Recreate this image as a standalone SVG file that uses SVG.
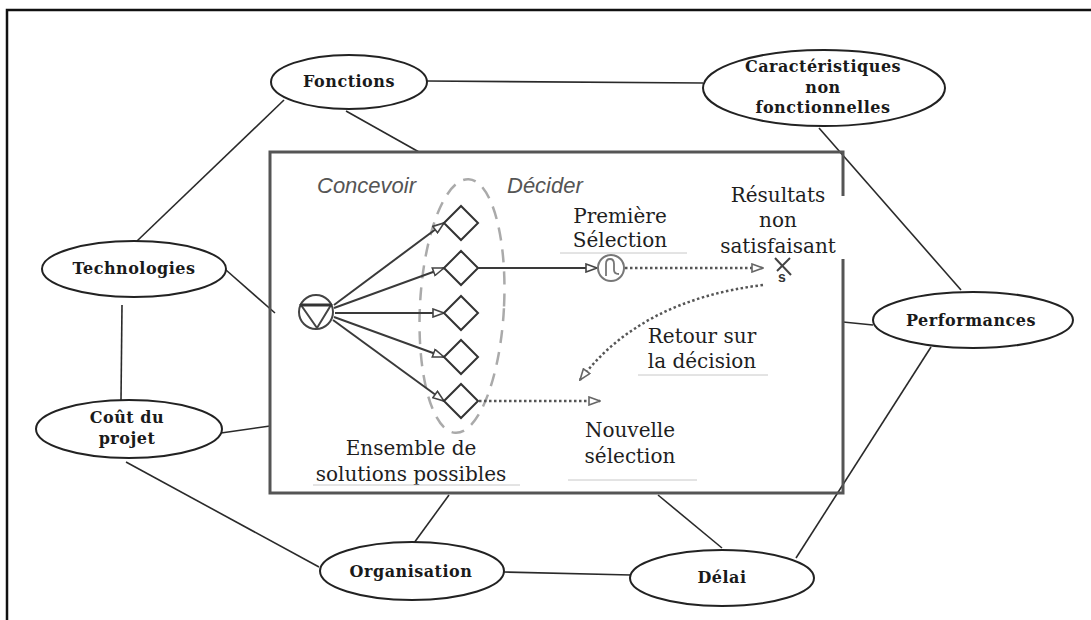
<svg xmlns="http://www.w3.org/2000/svg" width="1091" height="620" viewBox="0 0 1091 620">
  <style>
    .node ellipse { fill: #ffffff; stroke: #222; stroke-width: 2; }
    .nlabel { font-family: "DejaVu Serif", "Liberation Serif", serif; font-weight: bold; font-size: 16px; letter-spacing: 0.5px; fill: #1a1a1a; text-anchor: middle; }
    .link { stroke: #2a2a2a; stroke-width: 1.6; fill: none; }
    .phase { font-family: "Liberation Sans", Arial, sans-serif; font-style: italic; font-size: 22px; fill: #555; }
    .lbl { font-family: "DejaVu Serif", "Liberation Serif", serif; font-size: 20px; fill: #1e1e1e; text-anchor: middle; }
    .uline { stroke: #c8c8c8; stroke-width: 1; }
    .flow { stroke: #3a3a3a; stroke-width: 2; fill: none; }
    .dots { stroke: #555; stroke-width: 2.5; fill: none; stroke-dasharray: 2.5 2.5; }
    .diamond { fill: #fff; stroke: #333; stroke-width: 2; }
  </style>
  <defs>
    <marker id="open" viewBox="-1 -1 13 10" refX="11" refY="4" markerWidth="13" markerHeight="10" markerUnits="userSpaceOnUse" orient="auto">
      <path d="M0,0 L11,4 L0,8 Z" fill="#fff" stroke="#444" stroke-width="1.6"/>
    </marker>
    <marker id="openGray" viewBox="-1 -1 13 10" refX="11" refY="4" markerWidth="13" markerHeight="10" markerUnits="userSpaceOnUse" orient="auto">
      <path d="M0,0 L11,4 L0,8 Z" fill="#fff" stroke="#666" stroke-width="1.6"/>
    </marker>
  </defs>

  <rect width="1091" height="620" fill="#ffffff"/>

  <!-- page frame (top and left edges) -->
  <path d="M7,620 L7,10 L1091,10" fill="none" stroke="#111" stroke-width="2.5"/>

  <!-- links between the outer topics and the central process -->
  <g id="connectors">
    <line class="link" x1="427" y1="81" x2="703" y2="83"/>
    <line class="link" x1="284" y1="100" x2="137" y2="241"/>
    <line class="link" x1="346" y1="111" x2="419" y2="152"/>
    <line class="link" x1="226" y1="270" x2="275" y2="313"/>
    <line class="link" x1="122" y1="305" x2="121" y2="400"/>
    <line class="link" x1="221" y1="433" x2="270" y2="426"/>
    <line class="link" x1="126" y1="462" x2="319" y2="567"/>
    <line class="link" x1="414" y1="543" x2="449" y2="495"/>
    <line class="link" x1="504" y1="572" x2="631" y2="575"/>
    <line class="link" x1="722" y1="548" x2="658" y2="495"/>
    <line class="link" x1="796" y1="558" x2="931" y2="347"/>
    <line class="link" x1="843" y1="322" x2="873" y2="325"/>
    <line class="link" x1="819" y1="128" x2="961" y2="290"/>
  </g>

  <!-- central design / decision process -->
  <g id="process">
    <rect x="270" y="152" width="573" height="341" fill="none" stroke="#555" stroke-width="3"/>

    <text class="phase" x="317" y="193">Concevoir</text>
    <text class="phase" x="507" y="193">Décider</text>

    <!-- set of candidate solutions -->
    <ellipse cx="462" cy="306" rx="42" ry="127" transform="rotate(3 462 306)" fill="none" stroke="#aaa" stroke-width="2.5" stroke-dasharray="13 9"/>

    <!-- source: circle with triangle -->
    <circle cx="316" cy="312" r="17" fill="#fff" stroke="#444" stroke-width="2"/>
    <path d="M301,305 L331,305 L317,328 Z" fill="none" stroke="#444" stroke-width="2"/>
    <line x1="300" y1="305" x2="332" y2="305" stroke="#333" stroke-width="3"/>

    <!-- fan-out to each solution -->
    <line class="flow" x1="334" y1="305" x2="444" y2="223" marker-end="url(#open)"/>
    <line class="flow" x1="334" y1="308" x2="444" y2="268" marker-end="url(#open)"/>
    <line class="flow" x1="335" y1="313" x2="444" y2="313" marker-end="url(#open)"/>
    <line class="flow" x1="334" y1="317" x2="444" y2="357" marker-end="url(#open)"/>
    <line class="flow" x1="333" y1="320" x2="444" y2="401" marker-end="url(#open)"/>

    <path class="diamond" d="M444,223 L461,206 L478,223 L461,240 Z"/>
    <path class="diamond" d="M444,268 L461,251 L478,268 L461,285 Z"/>
    <path class="diamond" d="M444,313 L461,296 L478,313 L461,330 Z"/>
    <path class="diamond" d="M444,357 L461,340 L478,357 L461,374 Z"/>
    <path class="diamond" d="M444,401 L461,384 L478,401 L461,418 Z"/>

    <!-- first selection -->
    <line class="flow" x1="478" y1="268" x2="597" y2="268" marker-end="url(#open)"/>
    <circle cx="611" cy="268" r="13" fill="#fff" stroke="#777" stroke-width="2"/>
    <path d="M606,276 L606,264 Q606,259 610,259 Q614,259 614,264 L614,270 Q614,274 619,274" fill="none" stroke="#777" stroke-width="1.8"/>
    <line class="dots" x1="625" y1="268" x2="763" y2="268" marker-end="url(#openGray)"/>

    <!-- unsatisfactory result -->
    <rect x="712" y="196" width="134" height="63" fill="#fff"/>
    <line x1="775" y1="258" x2="791" y2="275" stroke="#444" stroke-width="2"/>
    <line x1="790" y1="258" x2="777" y2="271" stroke="#444" stroke-width="2"/>
    <text x="778" y="282" font-family="Liberation Sans, Arial, sans-serif" font-weight="bold" font-size="14" fill="#333">s</text>

    <!-- back to the decision -->
    <path class="dots" d="M763,285 Q640,300 580,380" marker-end="url(#openGray)"/>

    <!-- new selection -->
    <line class="dots" x1="479" y1="401" x2="600" y2="401" marker-end="url(#openGray)"/>

    <!-- labels -->
    <text class="lbl" x="620" y="223">Première</text>
    <text class="lbl" x="620" y="247">Sélection</text>
    <line class="uline" x1="560" y1="253" x2="687" y2="253"/>

    <text class="lbl" x="778" y="202">Résultats</text>
    <text class="lbl" x="778" y="227">non</text>
    <text class="lbl" x="778" y="253">satisfaisant</text>

    <text class="lbl" x="702" y="343">Retour sur</text>
    <text class="lbl" x="702" y="368">la décision</text>
    <line class="uline" x1="638" y1="375" x2="768" y2="375"/>

    <text class="lbl" x="630" y="437">Nouvelle</text>
    <text class="lbl" x="630" y="463">sélection</text>
    <line class="uline" x1="568" y1="480" x2="697" y2="480"/>

    <text class="lbl" x="411" y="455">Ensemble de</text>
    <text class="lbl" x="411" y="481">solutions possibles</text>
    <line class="uline" x1="313" y1="485" x2="520" y2="485"/>
  </g>

  <!-- outer topics -->
  <g id="fonctions" class="node">
    <ellipse cx="349" cy="82" rx="78" ry="27"/>
    <text class="nlabel" x="349" y="87">Fonctions</text>
  </g>
  <g id="caracteristiques" class="node">
    <ellipse cx="824" cy="88" rx="121" ry="38"/>
    <text class="nlabel" x="823" y="72">Caractéristiques</text>
    <text class="nlabel" x="823" y="93">non</text>
    <text class="nlabel" x="823" y="113">fonctionnelles</text>
  </g>
  <g id="technologies" class="node">
    <ellipse cx="134" cy="269" rx="92" ry="28"/>
    <text class="nlabel" x="134" y="274">Technologies</text>
  </g>
  <g id="performances" class="node">
    <ellipse cx="973" cy="320" rx="100" ry="28"/>
    <text class="nlabel" x="971" y="326">Performances</text>
  </g>
  <g id="cout" class="node">
    <ellipse cx="129" cy="429" rx="93" ry="29"/>
    <text class="nlabel" x="127" y="423">Coût du</text>
    <text class="nlabel" x="127" y="444">projet</text>
  </g>
  <g id="organisation" class="node">
    <ellipse cx="412" cy="571" rx="92" ry="29"/>
    <text class="nlabel" x="411" y="577">Organisation</text>
  </g>
  <g id="delai" class="node">
    <ellipse cx="722" cy="578" rx="92" ry="28"/>
    <text class="nlabel" x="722" y="583">Délai</text>
  </g>
</svg>
